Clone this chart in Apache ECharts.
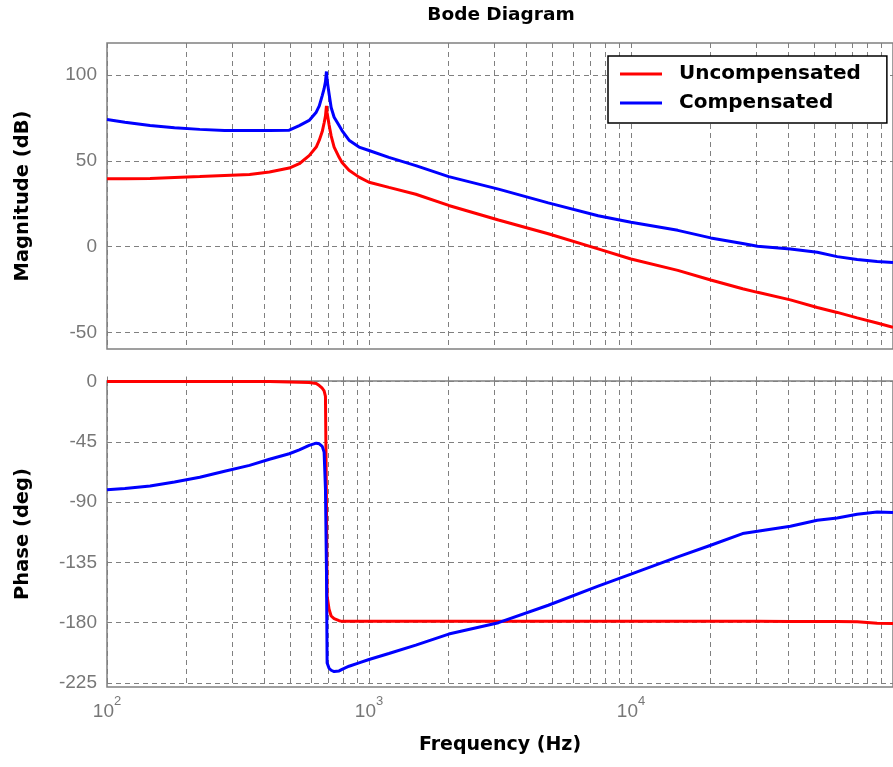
<!DOCTYPE html>
<html>
<head>
<meta charset="utf-8">
<title>Bode Diagram</title>
<script src="https://cdn.jsdelivr.net/npm/echarts@6/dist/echarts.min.js"></script>
<style>
  html, body { margin: 0; padding: 0; background: #fff; }
  #chart { width: 893px; height: 767px; }
</style>
</head>
<body>
<div id="chart"></div>
<script>
// Frequency samples (Hz) shared by every trace
const freqHz = [100, 117, 146, 181, 226, 281, 350, 417, 496, 542, 591, 629, 646, 663, 674, 682,
  688, 692, 704, 717, 736, 769, 789, 839, 916, 1000, 1191, 1509, 2015, 3120, 4834, 7490,
  10000, 15090, 20150, 26670, 30400, 40590, 51400, 61240, 72980, 86950, 100000];

// Magnitude (dB)
const magUncomp = [39.6, 39.6, 39.7, 40.3, 40.8, 41.4, 42.0, 43.5, 45.8, 48.3, 53.0, 58.0, 62.0, 67.0, 72.0, 76.0,
  82.0, 78.0, 71.0, 64.5, 58.0, 52.0, 49.0, 44.5, 40.5, 37.5, 34.5, 30.5, 24.0, 15.5, 7.5, -1.3,
  -7.2, -13.8, -19.4, -24.5, -26.6, -31.0, -35.4, -38.3, -41.5, -44.5, -47.0];
const magComp = [74.0, 72.5, 70.5, 69.3, 68.3, 67.6, 67.6, 67.6, 67.8, 70.5, 73.5, 78.3, 82.0, 88.0, 92.0, 96.0,
  102.0, 97.0, 89.0, 81.0, 75.4, 70.5, 67.6, 62.0, 58.0, 56.0, 52.0, 47.2, 40.8, 33.5, 25.5, 18.0,
  14.2, 9.5, 5.1, 1.8, 0.2, -1.3, -3.3, -5.8, -7.5, -8.7, -9.3];

// Phase (deg)
const phaseUncomp = [0, 0, 0, 0, 0, 0, 0, 0, -0.3, -0.5, -0.8, -1.5, -3.0, -5.0, -7.0, -11.0,
  -90.0, -160.0, -170.0, -175.0, -177.0, -178.5, -179.0, -179.0, -179.0, -179.0, -179.0, -179.0, -179.0, -179.0, -179.0, -179.0,
  -179.0, -179.0, -179.0, -179.0, -179.0, -179.1, -179.1, -179.2, -179.3, -180.5, -180.6];
const phaseComp = [-80.7, -79.8, -78.0, -75.0, -71.5, -67.0, -62.6, -58.0, -53.9, -51.0, -47.7, -46.0, -46.5, -48.4, -52.7, -80.0,
  -140.0, -210.0, -214.0, -215.5, -216.5, -216.0, -214.8, -212.5, -210.0, -207.5, -203.0, -196.7, -188.5, -180.0, -167.0, -152.7,
  -143.8, -130.9, -122.2, -113.5, -111.8, -108.0, -103.6, -101.8, -99.0, -97.4, -97.8];

// Axis ticks and labels
const freqGridTicks = [100, 200, 300, 400, 500, 600, 700, 800, 900,
  1000, 2000, 3000, 4000, 5000, 6000, 7000, 8000, 9000,
  10000, 20000, 30000, 40000, 50000, 60000, 70000, 80000, 90000, 100000];
const freqLabelTicks = [100, 1000, 10000];
const magTicks = [-50, 0, 50, 100];
const phaseTicks = [-225, -180, -135, -90, -45, 0];

const seriesNames = ['Uncompensated', 'Compensated'];
const seriesColors = ['#ff0000', '#0000ff'];

const GRAY = '#808080';
const LABEL_GRAY = '#777777';
const TICK_FONT = "'Liberation Sans', Arial, sans-serif";
const BOLD_FONT = "'DejaVu Sans', Verdana, sans-serif";

const pairs = (ys) => freqHz.map((f, i) => [f, ys[i]]);

const gridLine = { show: true, lineStyle: { color: GRAY, width: 1, type: [5, 4] } };

function xAxisFor(gridIndex, withLabels) {
  return {
    type: 'log', logBase: 10, gridIndex: gridIndex, min: 100, max: 100000,
    position: 'bottom',
    axisLine: { show: false },
    axisTick: { show: true, inside: true, length: 5, customValues: freqGridTicks, lineStyle: { color: GRAY, width: 1 } },
    splitLine: gridLine,
    minorTick: { show: false }, minorSplitLine: { show: false },
    axisLabel: withLabels ? {
      show: true, customValues: freqLabelTicks, margin: 8,
      formatter: (v) => '{b|10}{s|' + Math.round(Math.log10(v)) + '}',
      rich: {
        b: { fontFamily: TICK_FONT, fontSize: 19, color: LABEL_GRAY, lineHeight: 26, verticalAlign: 'bottom' },
        s: { fontFamily: TICK_FONT, fontSize: 13, color: LABEL_GRAY, lineHeight: 26, verticalAlign: 'top' }
      }
    } : { show: false },
    name: withLabels ? 'Frequency (Hz)' : '',
    nameLocation: 'middle', nameGap: 49,
    nameTextStyle: { fontFamily: BOLD_FONT, fontWeight: 'bold', fontSize: 19, color: '#000' }
  };
}

// Ticks along the top edge of each panel
function topTickAxis(gridIndex) {
  return {
    type: 'log', logBase: 10, gridIndex: gridIndex, min: 100, max: 100000, position: 'top',
    axisLine: { show: false },
    axisTick: { show: true, inside: true, length: 5, customValues: freqGridTicks, lineStyle: { color: GRAY, width: 1 } },
    axisLabel: { show: false }, splitLine: { show: false }
  };
}

function yAxisFor(gridIndex, min, max, ticks, name) {
  return {
    type: 'value', gridIndex: gridIndex, min: min, max: max,
    axisLine: { show: false },
    axisTick: { show: true, inside: true, length: 5, customValues: ticks, lineStyle: { color: GRAY, width: 1 } },
    axisLabel: { show: true, customValues: ticks, margin: 10, fontFamily: TICK_FONT, fontSize: 19, color: LABEL_GRAY },
    splitLine: gridLine,
    name: name, nameLocation: 'middle', nameGap: 74,
    nameTextStyle: { fontFamily: BOLD_FONT, fontWeight: 'bold', fontSize: 19.5, color: '#000' }
  };
}

function lineSeries(name, color, xIdx, yIdx, ys) {
  return {
    type: 'line', name: name, xAxisIndex: xIdx, yAxisIndex: yIdx,
    data: pairs(ys), showSymbol: false, symbol: 'none', smooth: false,
    lineStyle: { color: color, width: 3 }, itemStyle: { color: color },
    emphasis: { disabled: true }
  };
}

const chart = echarts.init(document.getElementById('chart'), null, { renderer: 'canvas' });
chart.setOption({
  animation: false,
  backgroundColor: '#ffffff',
  title: {
    text: 'Bode Diagram', left: 501, top: 6, textAlign: 'center', padding: 0,
    textStyle: { fontFamily: BOLD_FONT, fontWeight: 'bold', fontSize: 18.5, color: '#000' }
  },
  legend: {
    orient: 'vertical', left: 608, top: 56,
    data: seriesNames.map((n, i) => ({ name: n, icon: 'rect', itemStyle: { color: seriesColors[i] } })),
    itemWidth: 42, itemHeight: 3, itemGap: 9,
    padding: [8, 26, 10, 12],
    backgroundColor: '#ffffff', borderColor: '#000000', borderWidth: 1.5, borderRadius: 0,
    selectedMode: false,
    textStyle: { fontFamily: BOLD_FONT, fontWeight: 'bold', fontSize: 20, color: '#000', lineHeight: 20, padding: [0, 0, 0, 12] }
  },
  grid: [
    { left: 107, top: 43, width: 789, height: 306, show: true, borderColor: GRAY, borderWidth: 1.5, backgroundColor: 'transparent' },
    { left: 107, top: 381, width: 789, height: 306, show: true, borderColor: GRAY, borderWidth: 1.5, backgroundColor: 'transparent' }
  ],
  xAxis: [xAxisFor(0, false), xAxisFor(1, true), topTickAxis(0), topTickAxis(1)],
  yAxis: [
    yAxisFor(0, -59.6, 118.6, magTicks, 'Magnitude (dB)'),
    yAxisFor(1, -228, 0.4, phaseTicks, 'Phase (deg)')
  ],
  series: [
    lineSeries(seriesNames[0], seriesColors[0], 0, 0, magUncomp),
    lineSeries(seriesNames[1], seriesColors[1], 0, 0, magComp),
    lineSeries(seriesNames[0], seriesColors[0], 1, 1, phaseUncomp),
    lineSeries(seriesNames[1], seriesColors[1], 1, 1, phaseComp)
  ]
});
</script>
</body>
</html>
